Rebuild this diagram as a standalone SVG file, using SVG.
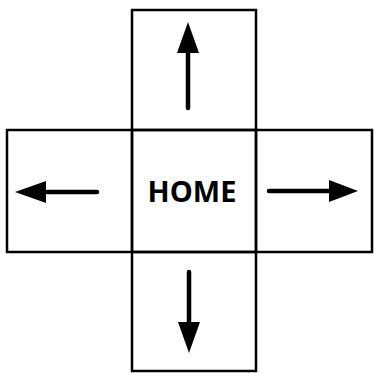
<svg xmlns="http://www.w3.org/2000/svg" width="375" height="373" viewBox="0 0 375 373">
<style>
.box{fill:none;stroke:#000;stroke-width:2.5}
.shaft{stroke:#000;stroke-width:4.5;stroke-linecap:round}
.head{fill:#000}
.lbl{font-family:"Open Sans","DejaVu Sans",sans-serif;font-weight:bold;font-size:29px;fill:#000}
</style>
<rect width="375" height="373" fill="#fff"/>
<g id="up"><rect class="box" x="132" y="10" width="124" height="120"/></g>
<g id="left"><rect class="box" x="7" y="130" width="125" height="122"/></g>
<g id="home"><rect class="box" x="132" y="130" width="124" height="122"/><text class="lbl" x="192" y="202" text-anchor="middle">HOME</text></g>
<g id="right"><rect class="box" x="256" y="130" width="116" height="122"/></g>
<g id="down"><rect class="box" x="132" y="252" width="124" height="119"/></g>
<g id="connectors">
<line class="shaft" x1="188" y1="108" x2="188" y2="48"/><polygon class="head" points="188,22 177,53 199,53"/>
<line class="shaft" x1="97" y1="192" x2="40" y2="192"/><polygon class="head" points="15,192 46,181 46,203"/>
<line class="shaft" x1="269" y1="191" x2="334" y2="191"/><polygon class="head" points="358,191 329,180 329,202"/>
<line class="shaft" x1="189" y1="272" x2="189" y2="326"/><polygon class="head" points="189,353 178,322 200,322"/>
</g>
</svg>
